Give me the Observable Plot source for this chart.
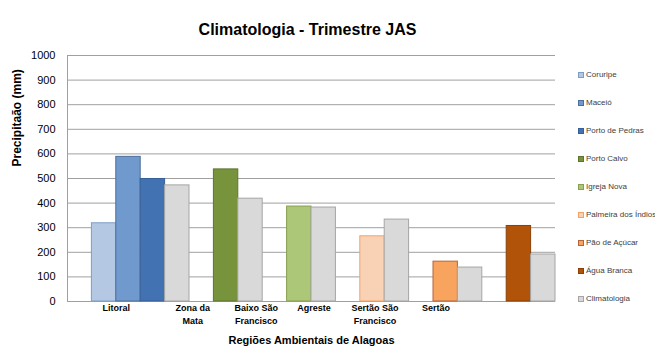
<!DOCTYPE html>
<html><head><meta charset="utf-8">
<script src="https://cdn.jsdelivr.net/npm/d3@7"></script>
<script src="https://cdn.jsdelivr.net/npm/@observablehq/plot@0.6"></script>
<style>
html,body{margin:0;padding:0;background:#fff;}
#wrap{position:relative;width:655px;height:347px;overflow:hidden;font-family:"Liberation Sans",Arial,sans-serif;}
#wrap svg{position:absolute;left:0;top:0;}
.item{position:absolute;left:578px;height:10px;display:flex;align-items:center;font-size:8px;color:#404040;white-space:nowrap;line-height:10px;}
.sw{width:4px;height:4px;border:1px solid;margin-right:2px;box-sizing:content-box;}
</style></head><body><div id="wrap"></div>
<script>
const title = "Climatologia - Trimestre JAS";
const yTitle = "Precipitaão (mm)";
const xTitle = "Regiões Ambientais de Alagoas";

const stations = ["Coruripe","Maceió","Porto de Pedras","Porto Calvo","Igreja Nova","Palmeira dos Índios","Pão de Açúcar","Água Branca","Climatologia"];
const fillColors = ["#b4c8e4","#7099ce","#4372b2","#77933c","#adc778","#f9d1b5","#f8a45f","#b15308","#d9d9d9"];
const strokeColors = ["#7f9cc4","#4d6e99","#36609a","#5e7530","#86a050","#f3a265","#b3653a","#8b4106","#a5a5a5"];

// one entry per category slot on the x axis (null = empty slot)
const slotStation = [null,"Coruripe","Maceió","Porto de Pedras","Climatologia",null,"Porto Calvo","Climatologia",null,"Igreja Nova","Climatologia",null,"Palmeira dos Índios","Climatologia",null,"Pão de Açúcar","Climatologia",null,"Água Branca","Climatologia"];
const slotValue = [null,318,588,498,472,null,537,418,null,386,382,null,265,333,null,162,138,null,307,191];

const regionLabels = ["Litoral","Zona da\nMata","Baixo São\nFrancisco","Agreste","Sertão São\nFrancisco","Sertão"];
const regionLabelSlot = [2.0,5.13,7.74,10.1,12.6,15.1];
const yTicks = d3.range(0, 1001, 100);

const data = slotStation.map((s,i)=>({slot:i, station:s, value:slotValue[i]})).filter(d=>d.station);
const fillOf = Object.fromEntries(stations.map((s,i)=>[s,fillColors[i]]));
const strokeOf = Object.fromEntries(stations.map((s,i)=>[s,strokeColors[i]]));

const chart = Plot.plot({
  width: 655, height: 347,
  marginLeft: 67, marginRight: 100, marginTop: 55, marginBottom: 46,
  style: {fontFamily: "'Liberation Sans', Arial, sans-serif", background: "#fff", color: "#000"},
  x: {domain: [0, slotStation.length], axis: null},
  y: {domain: [0, 1000], axis: null},
  marks: [
    Plot.gridY(yTicks, {stroke: "#a0a0a0", strokeOpacity: 1}),
    Plot.ruleX([0], {stroke: "#a0a0a0"}),
    Plot.ruleY([0], {stroke: "#a0a0a0"}),
    Plot.rectY(data, {x1: "slot", x2: d => d.slot + 1, y: "value",
      fill: d => fillOf[d.station], stroke: d => strokeOf[d.station], strokeWidth: 1}),
    Plot.axisY(yTicks, {tickSize: 0, tickPadding: 12, fontSize: 11, label: null, fill: "#000", tickFormat: d => String(d)}),
    Plot.text(regionLabels, {x: regionLabelSlot, frameAnchor: "bottom", lineAnchor: "top", dy: 1,
      fontSize: 9, fontWeight: "bold", lineHeight: 1.4, fill: "#000"}),
    Plot.text([title], {frameAnchor: "top", dy: -32, dx: -4, fontSize: 16, fontWeight: "bold", fill: "#000"}),
    Plot.text([xTitle], {frameAnchor: "bottom", lineAnchor: "bottom", dy: 42, fontSize: 11, fontWeight: "bold", fill: "#000"}),
    Plot.text([yTitle], {frameAnchor: "left", rotate: -90, dx: -50, dy: -12, fontSize: 12, fontWeight: "bold", fill: "#000"})
  ]
});
const wrap = document.getElementById("wrap");
wrap.appendChild(chart);

stations.forEach((s,i)=>{
  const it = document.createElement("div");
  it.className = "item";
  it.style.top = (75 + 28*i - 5) + "px";
  const sw = document.createElement("span");
  sw.className = "sw";
  sw.style.background = fillColors[i];
  sw.style.borderColor = strokeColors[i];
  it.appendChild(sw);
  it.appendChild(document.createTextNode(s));
  wrap.appendChild(it);
});
</script></body></html>
